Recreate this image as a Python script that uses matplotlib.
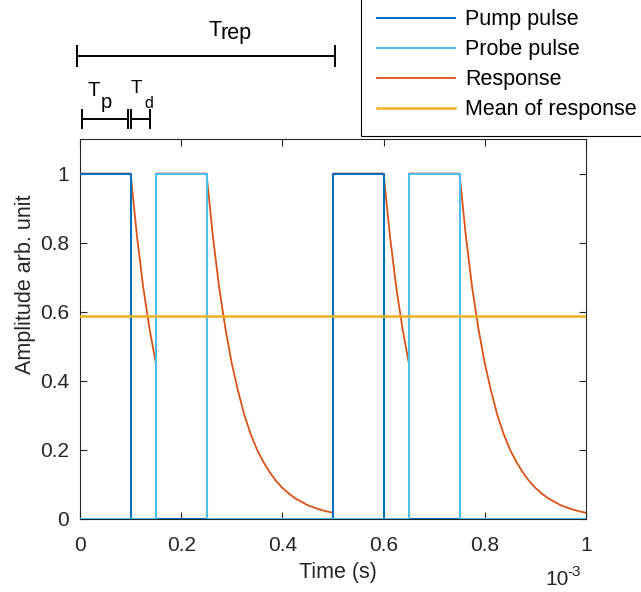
import numpy as np
import matplotlib
matplotlib.use("Agg")
import matplotlib.pyplot as plt

plt.rcParams['font.family'] = ['Liberation Sans', 'DejaVu Sans']

# time in units of 1e-3 s
t_rep = 0.5
pump_t = [0.0, 0.1, 0.1, 0.5, 0.5, 0.6, 0.6, 1.0]
pump_v = [1, 1, 0, 0, 1, 1, 0, 0]
probe_t = [0.0, 0.15, 0.15, 0.25, 0.25, 0.65, 0.65, 0.75, 0.75, 1.0]
probe_v = [0, 0, 1, 1, 0, 0, 1, 1, 0, 0]

# one repetition period of the response
resp_t_period = [0.0, 0.1, 0.1125, 0.125, 0.1375, 0.15, 0.15, 0.25,
                 0.2625, 0.275, 0.2875, 0.30, 0.3125, 0.325, 0.3375, 0.35,
                 0.3625, 0.375, 0.3875, 0.40, 0.4125, 0.425, 0.4375, 0.45,
                 0.4625, 0.475, 0.4875, 0.4999]
resp_v_period = [1, 1, 0.82, 0.67, 0.55, 0.45, 1, 1,
                 0.82, 0.67, 0.55, 0.45, 0.37, 0.30, 0.245, 0.20,
                 0.165, 0.135, 0.11, 0.09, 0.074, 0.06, 0.05, 0.04,
                 0.033, 0.027, 0.022, 0.018]
mean_resp = 0.587

resp_t = np.concatenate([resp_t_period, np.array(resp_t_period) + t_rep])
resp_v = np.concatenate([resp_v_period, resp_v_period])

c_pump = '#0072BD'
c_probe = '#4DBEEE'
c_resp = '#D95319'
c_mean = '#EDB120'
axc = '#262626'

fig = plt.figure(figsize=(6.41, 5.92), dpi=100)
ax = fig.add_axes([80/641, 1 - 519/592, 506/641, 380/592])

lw = 1.5
l3, = ax.plot(resp_t, resp_v, color=c_resp, lw=1.3, zorder=2, label='Response')
l1, = ax.plot(pump_t, pump_v, color=c_pump, lw=lw, zorder=3, label='Pump pulse')
l2, = ax.plot(probe_t, probe_v, color=c_probe, lw=lw, zorder=4, label='Probe pulse')
l4 = ax.axhline(mean_resp, color=c_mean, lw=1.8, zorder=5, label='Mean of response')

ax.set_xlim(0, 1)
ax.set_ylim(0, 1.1)
ax.set_xticks([0, 0.2, 0.4, 0.6, 0.8, 1])
ax.set_xticklabels(['0', '0.2', '0.4', '0.6', '0.8', '1'])
ax.set_yticks([0, 0.2, 0.4, 0.6, 0.8, 1])
ax.set_yticklabels(['0', '0.2', '0.4', '0.6', '0.8', '1'])
ax.tick_params(direction='in', length=5, width=0.8, colors=axc, labelsize=15,
               top=True, right=True)
ax.tick_params(axis='x', pad=12)
ax.tick_params(axis='y', pad=8)
for s in ax.spines.values():
    s.set_color(axc)
    s.set_linewidth(0.8)
ax.set_xlabel('Time (s)', fontsize=15.5, color=axc, labelpad=5)
ax.xaxis.label.set_x(0.51)
ax.set_ylabel('Amplitude arb. unit', fontsize=15.5, color=axc)
ax.yaxis.set_label_coords(-0.087, 0.618)

# axis multiplier, written as 10 with a raised -3
fig.text(545/641, 1 - 585/592, '10', fontsize=15, color=axc, ha='left', va='baseline')
fig.text(567/641, 1 - 576/592, '-3', fontsize=11, color=axc, ha='left', va='baseline')

# schematic period annotations above the axes
spans = [(-0.006, 0.504, 1.341, 0.029),
         (0.004, 0.095, 1.159, 0.026),
         (0.101, 0.138, 1.159, 0.026)]
for x0, x1, y, h in spans:
    ax.plot([x0, x1], [y, y], color='k', lw=1.4, clip_on=False)
    ax.plot([x0, x0], [y - h, y + h], color='k', lw=1.4, clip_on=False)
    ax.plot([x1, x1], [y - h, y + h], color='k', lw=1.4, clip_on=False)

def ftext(x, y, s, size):
    fig.text(x/641, 1 - y/592, s, fontsize=size, ha='left', va='baseline')

ftext(209, 36, 'T', 15.5)
ftext(221, 39, 'rep', 15.5)
ftext(87, 96, 'T', 14.5)
ftext(101, 108, 'p', 14.5)
ftext(131, 93, 'T', 13.5)
ftext(144, 108, 'd', 11.5)

leg = fig.legend(handles=[l1, l2, l3, l4], loc='upper left',
                 bbox_to_anchor=(361/641, 1.0 + 7/592), fontsize=15.5,
                 handlelength=3.6, handletextpad=0.5, labelspacing=0.42,
                 borderpad=0.75, borderaxespad=0, fancybox=False, framealpha=1)
leg.get_frame().set_edgecolor('k')
leg.get_frame().set_linewidth(0.8)

fig.savefig('out.png', dpi=100)
